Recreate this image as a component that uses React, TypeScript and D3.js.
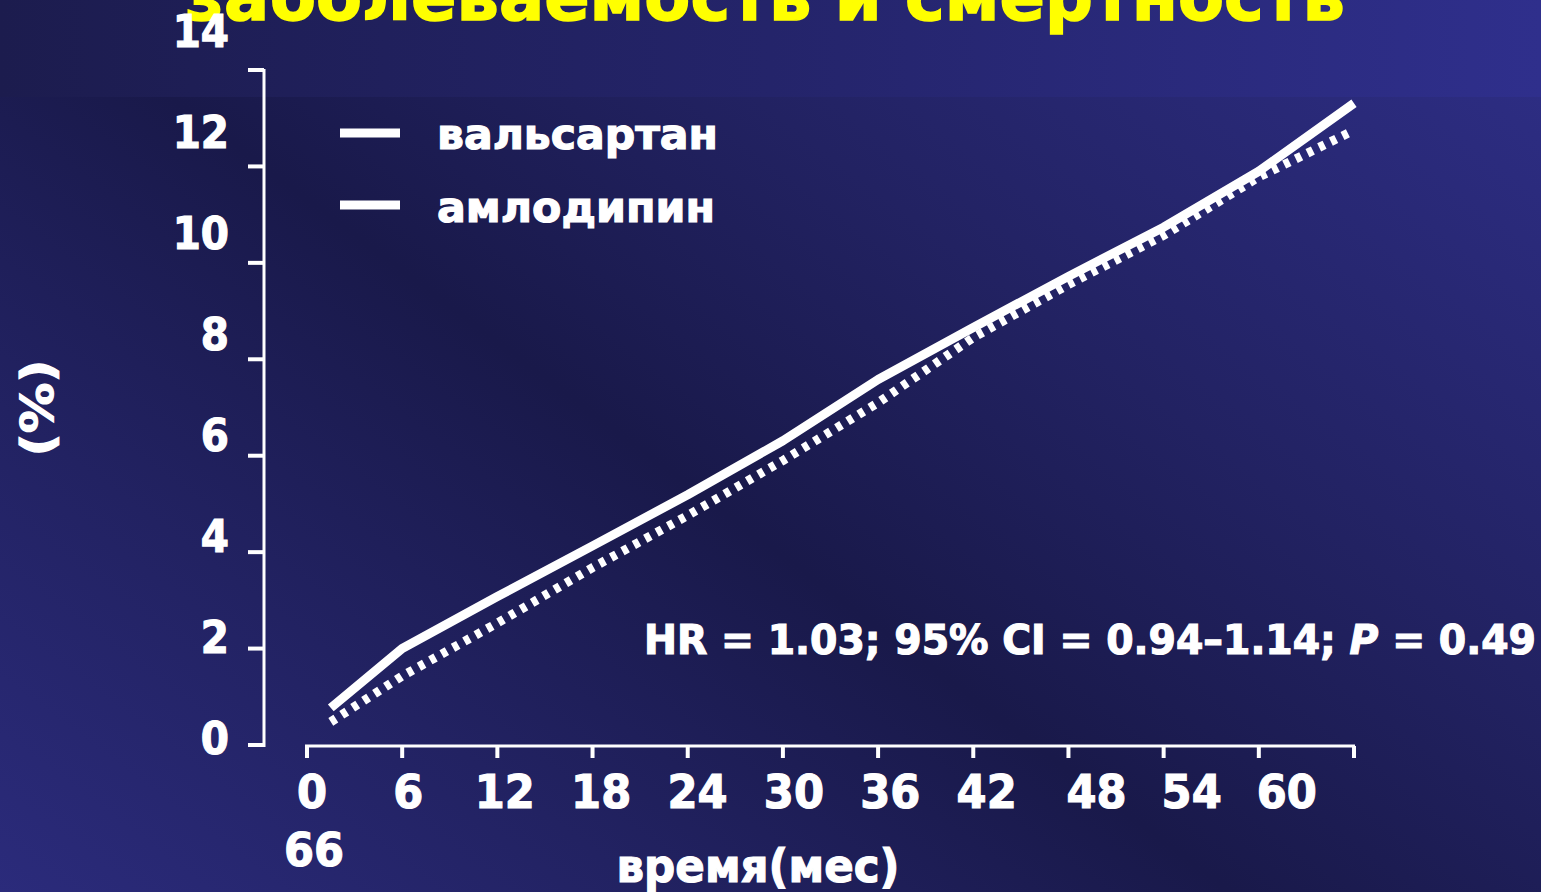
import React from "react";
import * as d3 from "d3";

const title = "заболеваемость и смертность";
const seriesNames = ["вальсартан", "амлодипин"];
const months = [1.5, 6, 12, 18, 24, 30, 36, 42, 48, 54, 60, 66];
const valsartan = [0.77, 2.0, 3.08, 4.13, 5.19, 6.31, 7.58, 8.66, 9.72, 10.74, 11.9, 13.31];
const amlodipine = [0.48, 1.43, 2.53, 3.68, 4.76, 5.9, 7.1, 8.45, 9.55, 10.57, 11.78, 12.75];
const yTicks = [0, 2, 4, 6, 8, 10, 12, 14];
const xTicks = [0, 6, 12, 18, 24, 30, 36, 42, 48, 54, 60, 66];
const xTickLabels = ["0", "6", "12", "18", "24", "30", "36", "42", "48", "54", "60"];
const extraXLabel = "66";
const yAxisTitle = "(%)";
const xAxisTitle = "время(мес)";
const statsText = ["HR = 1.03; 95% CI = 0.94–1.14; ", "P", " = 0.49"];

const W = 1541;
const H = 892;
const FONT = "'DejaVu Sans', Verdana, sans-serif";

export default function App() {
  const x = d3.scaleLinear().domain([0, 66]).range([307, 1354]);
  const y = d3.scaleLinear().domain([0, 14]).range([745, 70]);
  const yLab = d3.scaleLinear().domain([0, 14]).range([738, 31]);
  const xShift = (t: number) => (t >= 48 ? 28 : 5 + t * 0.2);

  const line = d3
    .line<number>()
    .x((_, i) => x(months[i]))
    .y((d) => y(d))
    .curve(d3.curveLinear);

  const heavy = { stroke: "#fff", strokeWidth: 1.2 };

  return (
    <svg
      width={W}
      height={H}
      style={{ position: "fixed", left: 0, top: 0, display: "block" }}
    >
      <defs>
        <linearGradient id="bgMain" gradientUnits="userSpaceOnUse" x1={250} y1={1250} x2={1300} y2={-150}>
          <stop offset="0" stopColor="#2e2e84" />
          <stop offset="0.3" stopColor="#222262" />
          <stop offset="0.5" stopColor="#19194a" />
          <stop offset="0.7" stopColor="#222262" />
          <stop offset="1" stopColor="#2e2e86" />
        </linearGradient>
        <linearGradient id="bgBand" x1="0" y1="0" x2="1" y2="0">
          <stop offset="0" stopColor="#1c1c4e" />
          <stop offset="0.5" stopColor="#24246a" />
          <stop offset="1" stopColor="#2f2f8c" />
        </linearGradient>
      </defs>
      <rect x={0} y={0} width={W} height={H} fill="url(#bgMain)" />
      <rect x={0} y={0} width={W} height={97} fill="url(#bgBand)" />

      {/* title */}
      <text
        x={765}
        y={20}
        textAnchor="middle"
        fontFamily={FONT}
        fontWeight="bold"
        fontSize={68}
        fill="#ffff00"
        stroke="#ffff00"
        strokeWidth={1.5}
        textLength={1160}
        lengthAdjust="spacingAndGlyphs"
      >
        {title}
      </text>

      {/* y axis */}
      <line x1={264} x2={264} y1={y(14) - 1} y2={y(0) + 2} stroke="#fff" strokeWidth={3} />
      {yTicks.map((t) => (
        <g key={"yt" + t}>
          <line x1={248} x2={264} y1={y(t)} y2={y(t)} stroke="#fff" strokeWidth={4} />
          <text
            transform={`translate(229,${yLab(t) + 16}) scale(0.92,1)`}
            textAnchor="end"
            fontFamily={FONT}
            fontWeight="bold"
            fontSize={44}
            fill="#fff"
            {...heavy}
          >
            {t}
          </text>
        </g>
      ))}

      {/* x axis */}
      <line x1={x(0) - 2} x2={x(66) + 1} y1={746} y2={746} stroke="#fff" strokeWidth={3} />
      {xTicks.map((t) => (
        <line key={"xt" + t} x1={x(t)} x2={x(t)} y1={746} y2={758} stroke="#fff" strokeWidth={4} />
      ))}
      {xTickLabels.map((lab, i) => (
        <text
          key={"xl" + lab}
          transform={`translate(${x(xTicks[i]) + xShift(xTicks[i])},808) scale(0.92,1)`}
          textAnchor="middle"
          fontFamily={FONT}
          fontWeight="bold"
          fontSize={47}
          fill="#fff"
          {...heavy}
        >
          {lab}
        </text>
      ))}
      <text
        transform={`translate(${x(0) + 7},866) scale(0.92,1)`}
        textAnchor="middle"
        fontFamily={FONT}
        fontWeight="bold"
        fontSize={47}
        fill="#fff"
        {...heavy}
      >
        {extraXLabel}
      </text>

      {/* axis titles */}
      <text
        x={758}
        y={882}
        textAnchor="middle"
        fontFamily={FONT}
        fontWeight="bold"
        fontSize={47}
        fill="#fff"
        {...heavy}
        textLength={283}
        lengthAdjust="spacingAndGlyphs"
      >
        {xAxisTitle}
      </text>
      <text
        transform="translate(53,408) rotate(-90)"
        textAnchor="middle"
        fontFamily={FONT}
        fontWeight="bold"
        fontSize={44}
        fill="#fff"
        {...heavy}
        textLength={97}
        lengthAdjust="spacingAndGlyphs"
      >
        {yAxisTitle}
      </text>

      {/* lines */}
      <path
        d={line(amlodipine) || ""}
        fill="none"
        stroke="#fff"
        strokeWidth={9}
        strokeDasharray="6 7"
      />
      <path d={line(valsartan) || ""} fill="none" stroke="#fff" strokeWidth={9} strokeLinejoin="round" />

      {/* legend */}
      {seriesNames.map((n, i) => (
        <g key={n}>
          <line x1={340} x2={400} y1={133 + i * 72} y2={133 + i * 72} stroke="#fff" strokeWidth={9} />
          <text
            x={437}
            y={149 + i * 73}
            fontFamily={FONT}
            fontWeight="bold"
            fontSize={43}
            fill="#fff"
            {...heavy}
            textLength={i === 0 ? 281 : 278}
            lengthAdjust="spacingAndGlyphs"
          >
            {n}
          </text>
        </g>
      ))}

      {/* stats */}
      <text
        x={644}
        y={654}
        fontFamily={FONT}
        fontWeight="bold"
        fontSize={41}
        fill="#fff"
        {...heavy}
        textLength={892}
        lengthAdjust="spacingAndGlyphs"
      >
        {statsText[0]}
        <tspan fontStyle="italic">{statsText[1]}</tspan>
        {statsText[2]}
      </text>
    </svg>
  );
}
